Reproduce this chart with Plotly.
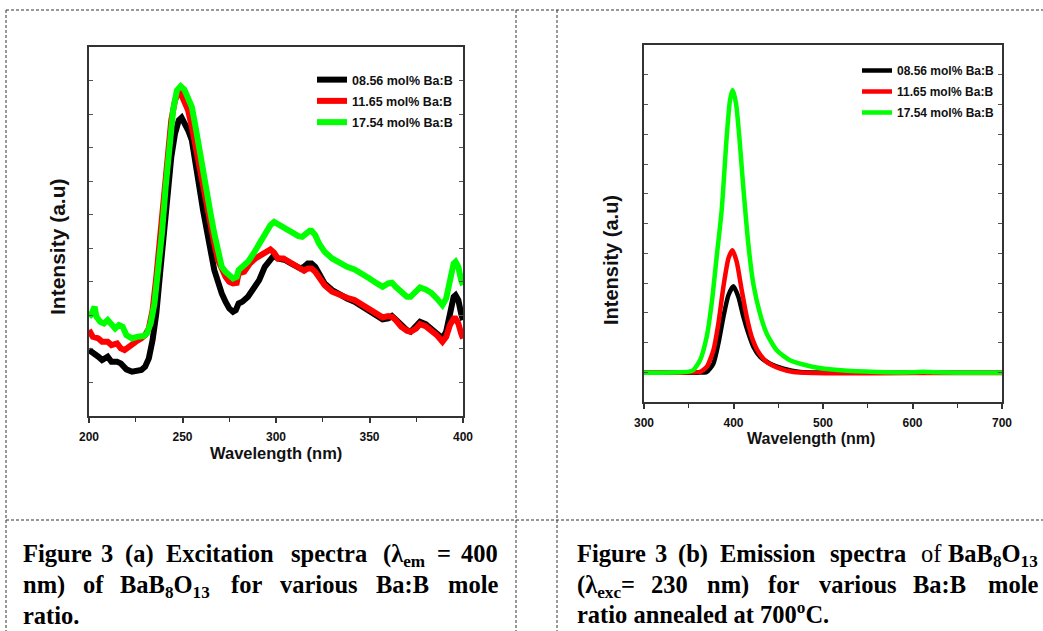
import plotly.graph_objects as go

W, H = 1043, 631

# ---------------- data ----------------
series_names = ["08.56 mol% Ba:B", "11.65 mol% Ba:B", "17.54 mol% Ba:B"]
series_colors = ["#000000", "#ff0000", "#00ff00"]

# (a) Excitation spectra (lambda_em = 400 nm), intensity in arbitrary units
exc_wl_black = [200, 203, 205, 207, 210, 212, 215, 217, 220, 223, 225, 228, 230, 232, 234, 236, 238, 240, 242, 244, 246, 248, 249.5, 251, 253, 255, 257, 259, 261, 263, 265, 267, 269, 271, 273, 275, 277, 278.5, 280, 282, 285, 288, 291, 294, 297, 299, 301, 305, 308, 311, 313, 315, 317, 319, 321, 323, 326, 330, 334, 338, 342, 346, 350, 354, 357, 360, 362, 364, 367, 370, 372, 375, 377, 380, 383, 386, 389, 391, 393, 395, 396, 397.5, 399, 400]
exc_int_black = [198, 188, 178, 168, 178, 163, 163, 158, 140, 133, 136, 138, 148, 173, 228, 308, 428, 548, 678, 778, 848, 888, 896, 883, 858, 828, 768, 688, 618, 568, 498, 438, 398, 368, 343, 323, 313, 318, 338, 343, 358, 383, 408, 448, 473, 483, 473, 468, 458, 448, 443, 448, 458, 458, 448, 428, 398, 378, 363, 353, 343, 328, 313, 298, 290, 293, 300, 290, 273, 258, 253, 268, 283, 276, 263, 248, 233, 253, 308, 358, 363, 348, 308, 288]

exc_wl_red = [200, 202, 205, 207, 210, 212, 215, 217, 219, 221, 223, 225, 228, 230, 232, 234, 236, 238, 240, 242, 244, 246, 248, 249, 251, 253, 255, 257, 259, 261, 263, 265, 267, 269, 271, 273, 275, 277, 279, 280, 283, 286, 289, 292, 295, 297, 299, 301, 304, 307, 310, 313, 315, 317, 319, 321, 323, 326, 330, 334, 338, 342, 346, 350, 354, 357, 360, 362, 364, 367, 370, 372, 375, 377, 380, 383, 386, 389, 391, 393, 395, 396, 397.5, 399, 400]
exc_int_red = [258, 238, 233, 223, 223, 213, 218, 203, 198, 208, 213, 223, 233, 243, 263, 318, 418, 548, 678, 788, 888, 948, 973, 970, 948, 918, 868, 808, 738, 678, 628, 568, 518, 468, 438, 418, 403, 398, 400, 428, 433, 458, 473, 483, 493, 500, 490, 473, 473, 463, 448, 438, 436, 443, 443, 433, 418, 393, 373, 363, 355, 348, 333, 318, 303, 296, 300, 298, 288, 268, 256, 253, 263, 276, 270, 258, 243, 223, 238, 273, 293, 293, 278, 248, 233]

exc_wl_green = [200, 201, 203, 204, 206, 208, 210, 212, 214, 216, 218, 220, 223, 226, 229, 231, 233, 235, 237, 239, 241, 243, 245, 247, 249, 251, 253, 255, 257, 259, 261, 263, 265, 267, 269, 271, 273, 275, 277, 279, 280, 282, 285, 288, 291, 294, 297, 299, 301, 304, 307, 310, 312, 314, 316, 318, 319, 321, 323, 326, 330, 334, 338, 342, 346, 350, 354, 357, 360, 362, 364, 367, 370, 372, 375, 377, 380, 383, 386, 389, 391, 393, 395, 396, 397.5, 399, 400]
exc_int_green = [298, 303, 328, 298, 283, 278, 288, 273, 263, 273, 268, 243, 233, 238, 240, 248, 278, 338, 428, 548, 688, 818, 918, 978, 990, 980, 958, 928, 868, 798, 728, 668, 608, 548, 488, 448, 433, 420, 413, 418, 438, 448, 463, 488, 518, 548, 573, 583, 576, 566, 558, 548, 540, 538, 548, 556, 556, 543, 518, 493, 473, 458, 448, 440, 428, 413, 398, 388, 398, 400, 388, 370, 358, 358, 373, 386, 380, 370, 353, 333, 353, 408, 458, 463, 448, 408, 393]

# (b) Emission spectra (lambda_exc = 230 nm), intensity in arbitrary units
emi_wl_black = [300, 340, 360, 370, 377.5, 383.1, 388.7, 394.3, 399.9, 405.5, 411.1, 416.7, 422.3, 429.8, 441, 455.9, 474.5, 500, 550, 600, 700]
emi_int_black = [88, 88, 88, 90, 115, 175, 255, 320, 347, 315, 255, 205, 165, 135, 115, 100, 90, 88, 88, 88, 88]

emi_wl_red = [300, 340, 355, 362.6, 370, 377.5, 383.1, 388.7, 394.3, 398.8, 403.6, 409.2, 414.8, 420.4, 427.8, 437.1, 452, 466.9, 490, 520, 600, 700]
emi_int_red = [88, 88, 89, 90, 105, 155, 235, 345, 430, 455, 420, 335, 255, 195, 150, 120, 100, 90, 87, 86, 87, 87]

emi_wl_green = [300, 320, 340, 350, 355, 362.6, 370, 375.6, 381.2, 386.8, 392.4, 396.1, 399.1, 402.8, 406.5, 410.9, 416.5, 422.1, 429.6, 437.1, 448.3, 463.1, 489.2, 520, 560, 600, 612, 625, 650, 700]
emi_int_green = [88, 88, 89, 91, 95, 125, 195, 295, 435, 575, 795, 905, 935, 895, 795, 645, 475, 355, 265, 205, 155, 125, 105, 95, 90, 89, 91, 89, 88, 88]

exc_x_ticks = [200, 250, 300, 350, 400]
emi_x_ticks = [300, 400, 500, 600, 700]
x_title = "Wavelength (nm)"
y_title = "Intensity (a.u)"

# ---------------- helpers ----------------
def px(x):
    return x / W

def py(y):
    return 1 - y / H

SANS = "Liberation Sans, Arial"
SERIF = "Liberation Serif, Times New Roman"

fig = go.Figure()

exc_sets = [(exc_wl_black, exc_int_black), (exc_wl_red, exc_int_red), (exc_wl_green, exc_int_green)]
emi_sets = [(emi_wl_black, emi_int_black), (emi_wl_red, emi_int_red), (emi_wl_green, emi_int_green)]

for i, (xs, ys) in enumerate(exc_sets):
    fig.add_trace(go.Scatter(x=xs, y=ys, mode="lines", name=series_names[i],
                             line=dict(color=series_colors[i], width=6),
                             xaxis="x", yaxis="y", legend="legend",
                             legendgroup="a%d" % i))
for i, (xs, ys) in enumerate(emi_sets):
    fig.add_trace(go.Scatter(x=xs, y=ys, mode="lines", name=series_names[i],
                             line=dict(color=series_colors[i], width=4.5, shape="spline", smoothing=0.6),
                             xaxis="x2", yaxis="y2", legend="legend2",
                             legendgroup="b%d" % i))

axis_common = dict(showline=True, linecolor="#333333", linewidth=1.5, showgrid=False,
                   zeroline=False, automargin=False)

tickfont = dict(family=SANS, size=12, color="#111111", weight="bold")

fig.update_layout(
    width=W, height=H,
    autosize=False,
    margin=dict(l=0, r=0, t=0, b=0, pad=0, autoexpand=False),
    paper_bgcolor="white", plot_bgcolor="white",
    xaxis=dict(domain=[px(89), px(463)], range=[200, 400], anchor="y",
               tickvals=exc_x_ticks, ticks="outside", ticklen=5, tickwidth=1.5,
               tickcolor="#333333", mirror=True, tickfont=tickfont, ticklabelstandoff=4,
               minor=dict(tickvals=[225, 275, 325, 375], ticks="outside", ticklen=4,
                          tickwidth=1.2, tickcolor="#333333"),
               **axis_common),
    yaxis=dict(domain=[py(416), py(47)], range=[0, 1108], anchor="x",
               tickvals=[k * 1108 / 11 for k in range(12)], ticks="inside", ticklen=4,
               tickwidth=1, tickcolor="#555555", showticklabels=False, mirror="ticks",
               **axis_common),
    xaxis2=dict(domain=[px(644), px(1002)], range=[300, 700], anchor="y2",
                tickvals=emi_x_ticks, ticks="outside", ticklen=5, tickwidth=1.5,
                tickcolor="#333333", mirror=True, tickfont=tickfont, ticklabelstandoff=4,
                minor=dict(tickvals=[350, 450, 550, 650], ticks="outside", ticklen=4,
                           tickwidth=1.2, tickcolor="#333333"),
                **axis_common),
    yaxis2=dict(domain=[py(402), py(45)], range=[0, 1070], anchor="x2",
                tickvals=[k * 1070 / 12 for k in range(13)], ticks="inside", ticklen=4,
                tickwidth=1, tickcolor="#555555", showticklabels=False, mirror="ticks",
                **axis_common),
    legend=dict(x=px(312), y=py(65), xanchor="left", yanchor="top",
                bgcolor="rgba(0,0,0,0)", borderwidth=0, tracegroupgap=2,
                font=dict(family=SANS, size=12.5, color="#111111", weight="bold")),
    legend2=dict(x=px(857), y=py(56), xanchor="left", yanchor="top",
                 bgcolor="rgba(0,0,0,0)", borderwidth=0, tracegroupgap=2,
                 font=dict(family=SANS, size=12, color="#111111", weight="bold")),
    showlegend=True,
)

annotations = []
# axis titles
annotations.append(dict(text=x_title, x=px(276), y=py(453), xref="paper", yref="paper",
                        showarrow=False, xanchor="center", yanchor="middle",
                        font=dict(family=SANS, size=16.5, color="#111111", weight="bold")))
annotations.append(dict(text=x_title, x=px(811), y=py(438), xref="paper", yref="paper",
                        showarrow=False, xanchor="center", yanchor="middle",
                        font=dict(family=SANS, size=16, color="#111111", weight="bold")))
annotations.append(dict(text=y_title, x=px(58), y=py(247), xref="paper", yref="paper",
                        showarrow=False, xanchor="center", yanchor="middle", textangle=-90,
                        font=dict(family=SANS, size=21, color="#111111", weight="bold")))
annotations.append(dict(text=y_title, x=px(611), y=py(260), xref="paper", yref="paper",
                        showarrow=False, xanchor="center", yanchor="middle", textangle=-90,
                        font=dict(family=SANS, size=20, color="#111111", weight="bold")))

# captions (justified lines placed word by word)
cap_font = dict(family=SERIF, size=24.5, color="#000000", weight="bold")
line_tops = [538, 569, 600]

def word(text, x, top, anchor="center", weight="bold"):
    f = dict(cap_font)
    f["weight"] = weight
    annotations.append(dict(text=text, x=px(x), y=py(top), xref="paper", yref="paper",
                            showarrow=False, xanchor=anchor, yanchor="top", font=f))

cap_a1 = [("Figure", 21, "left"), ("3", 107, "center"), ("(a)", 139, "center"),
          ("Excitation", 220, "center"), ("spectra", 329, "center"),
          ("(λ<sub>em</sub>", 404, "center"), ("=", 444, "center"), ("400", 500, "right")]
cap_a2 = [("nm)", 21, "left"), ("of", 93.5, "center"), ("BaB<sub>8</sub>O<sub>13</sub>", 165, "center"),
          ("for", 246.5, "center"), ("various", 319, "center"), ("Ba:B", 402.5, "center"),
          ("mole", 500, "right")]
cap_a3 = [("ratio.", 21, "left")]
cap_b1 = [("Figure", 575, "left"), ("3", 661, "center"), ("(b)", 693, "center"),
          ("Emission", 768, "center"), ("spectra", 868, "center"),
          ("of", 931, "center", "normal"), ("BaB<sub>8</sub>O<sub>13</sub>", 1040, "right")]
cap_b2 = [("(λ<sub>exc</sub>=", 575, "left"), ("230", 669, "center"), ("nm)", 728, "center"),
          ("for", 783.5, "center"), ("various", 858, "center"), ("Ba:B", 939, "center"),
          ("mole", 1040, "right")]

for t, x, a in cap_a1:
    word(t, x, line_tops[0], a)
for t, x, a in cap_a2:
    word(t, x, line_tops[1], a)
for t, x, a in cap_a3:
    word(t, x, line_tops[2], a)
for item in cap_b1:
    word(item[0], item[1], line_tops[0], item[2], item[3] if len(item) > 3 else "bold")
for t, x, a in cap_b2:
    word(t, x, line_tops[1], a)
word("ratio annealed at 700<sup>o</sup>C.", 575, line_tops[2] - 4, "left")

fig.update_layout(annotations=annotations)

# dashed table borders
shapes = []
def dline(x0, y0, x1, y1):
    shapes.append(dict(type="line", xref="paper", yref="paper",
                       x0=px(x0), y0=py(y0), x1=px(x1), y1=py(y1),
                       line=dict(color="#333333", width=1, dash="3px,2px")))
dline(6, 10, 1043, 10)
dline(6, 10, 6, 631)
dline(516, 10, 516, 631)
dline(557, 10, 557, 631)
dline(6, 520, 1043, 520)
fig.update_layout(shapes=shapes)

fig.write_html("out.html", config={"displayModeBar": False},
               post_script="document.body.style.margin='0px';document.body.style.overflow='hidden';")
